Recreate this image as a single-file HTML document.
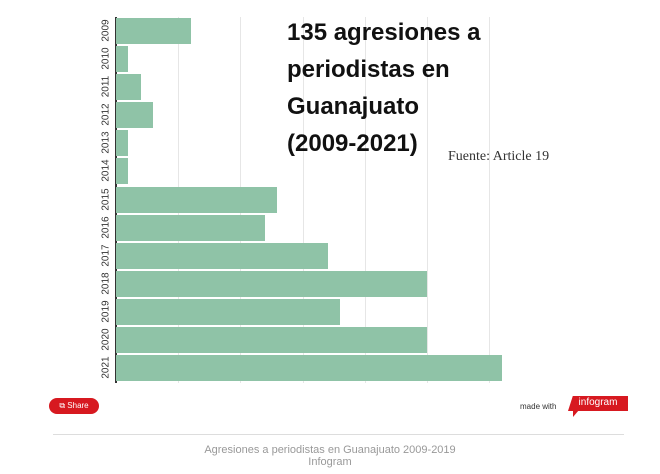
<!DOCTYPE html>
<html><head><style>
body{margin:0;width:660px;height:474px;background:#fff;position:relative;overflow:hidden;font-family:"Liberation Sans",sans-serif}
.b{position:absolute;left:116px;height:26px;background:#8fc3a7}
.g{position:absolute;top:17px;height:366px;width:1px;background:#e6e6e6}
.l{position:absolute;left:92px;width:28px;font-size:10px;color:#333;transform:rotate(-90deg);text-align:center}
</style></head><body>
<div class="g" style="left:178px"></div><div class="g" style="left:240px"></div><div class="g" style="left:303px"></div><div class="g" style="left:365px"></div><div class="g" style="left:427px"></div><div class="g" style="left:489px"></div>
<div style="position:absolute;left:115px;top:17px;width:2px;height:366px;background:#333"></div>
<div class="b" style="top:18px;width:75px"></div>
<div class="b" style="top:46px;width:12px"></div>
<div class="b" style="top:74px;width:25px"></div>
<div class="b" style="top:102px;width:37px"></div>
<div class="b" style="top:130px;width:12px"></div>
<div class="b" style="top:158px;width:12px"></div>
<div class="b" style="top:187px;width:161px"></div>
<div class="b" style="top:215px;width:149px"></div>
<div class="b" style="top:243px;width:212px"></div>
<div class="b" style="top:271px;width:311px"></div>
<div class="b" style="top:299px;width:224px"></div>
<div class="b" style="top:327px;width:311px"></div>
<div class="b" style="top:355px;width:386px"></div>
<div class="l" style="top:25px">2009</div><div class="l" style="top:53px">2010</div><div class="l" style="top:81px">2011</div><div class="l" style="top:109px">2012</div><div class="l" style="top:137px">2013</div><div class="l" style="top:165px">2014</div><div class="l" style="top:194px">2015</div><div class="l" style="top:222px">2016</div><div class="l" style="top:250px">2017</div><div class="l" style="top:278px">2018</div><div class="l" style="top:306px">2019</div><div class="l" style="top:334px">2020</div><div class="l" style="top:362px">2021</div>
<div style="position:absolute;left:287px;top:14px;font-size:24px;font-weight:bold;line-height:37px;color:#111">135 agresiones a<br>periodistas en<br>Guanajuato<br>(2009-2021)</div>
<div style="position:absolute;left:448px;top:149px;font-family:'Liberation Serif',serif;font-size:14px;color:#333">Fuente: Article 19</div>
<div style="position:absolute;left:49px;top:398px;width:50px;height:16px;border-radius:8px;background:#d71920;color:#fff;font-size:8px;line-height:16px;text-align:center">⧉ Share</div>
<div style="position:absolute;left:520px;top:402px;font-size:8px;color:#333">made with</div>
<div style="position:absolute;left:568px;top:396px;width:60px;height:15px;background:#d71920;color:#fff;font-size:10px;line-height:14px;text-align:center;clip-path:polygon(8% 0,100% 0,100% 100%,0 100%)">infogram</div>
<div style="position:absolute;left:573px;top:410px;width:0;height:0;border-left:6px solid #d71920;border-bottom:7px solid transparent"></div>
<div style="position:absolute;left:53px;top:434px;width:571px;height:1px;background:#ddd"></div>
<div style="position:absolute;left:0;width:660px;top:444px;text-align:center;font-size:11px;line-height:12px;color:#999">Agresiones a periodistas en Guanajuato 2009-2019<br>Infogram</div>
</body></html>
